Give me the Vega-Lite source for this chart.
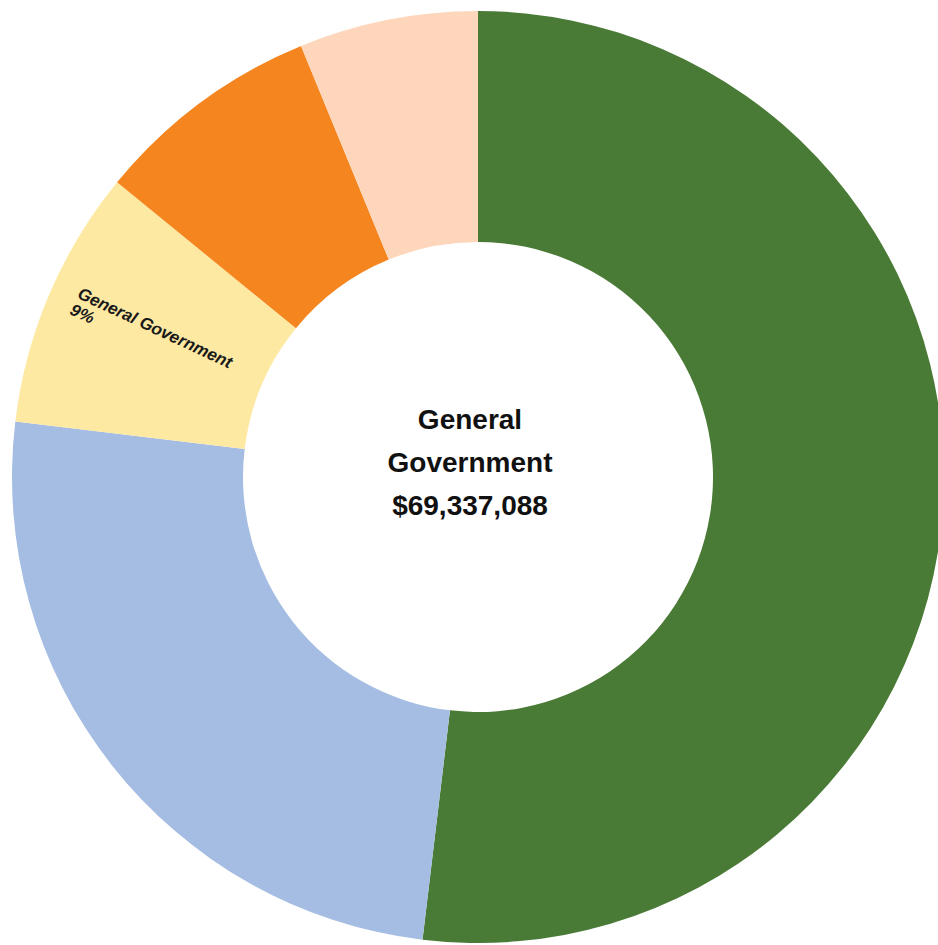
{
  "$schema": "https://vega.github.io/schema/vega-lite/v6.json",
  "width": 938,
  "height": 945,
  "autosize": {"type": "fit", "contains": "padding"},
  "padding": {"left": 18, "top": 9, "right": 0, "bottom": 0},
  "background": "white",
  "config": {"view": {"stroke": null}},
  "layer": [
    {
      "data": {
        "values": [
          {"category": "Segment 1", "share": 51.9, "order": 1, "label": ""},
          {"category": "Segment 2", "share": 25.0, "order": 2, "label": ""},
          {"category": "General Government", "share": 9.0, "order": 3, "label": "General Government\n9%"},
          {"category": "Segment 4", "share": 7.9, "order": 4, "label": ""},
          {"category": "Segment 5", "share": 6.2, "order": 5, "label": ""}
        ]
      },
      "encoding": {
        "theta": {"field": "share", "type": "quantitative", "stack": true},
        "order": {"field": "order", "type": "quantitative"}
      },
      "layer": [
        {
          "mark": {"type": "arc", "outerRadius": 466, "innerRadius": 235},
          "encoding": {
            "color": {
              "field": "category",
              "type": "nominal",
              "sort": ["Segment 1", "Segment 2", "General Government", "Segment 4", "Segment 5"],
              "scale": {
                "domain": ["Segment 1", "Segment 2", "General Government", "Segment 4", "Segment 5"],
                "range": ["#4a7b36", "#a5bde3", "#fde9a2", "#f5861f", "#fdd6bb"]
              },
              "legend": null
            }
          }
        },
        {
          "mark": {
            "type": "text",
            "radius": 440,
            "angle": 25,
            "align": "left",
            "baseline": "middle",
            "lineBreak": "\n",
            "lineHeight": 18,
            "font": "Liberation Sans",
            "fontSize": 17,
            "fontWeight": "bold",
            "fontStyle": "italic",
            "color": "#1a1a1a",
            "dx": 0,
            "dy": -13
          },
          "encoding": {
            "text": {"field": "label", "type": "nominal"}
          }
        }
      ]
    },
    {
      "data": {"values": [{"center": "General\nGovernment\n$69,337,088"}]},
      "mark": {
        "type": "text",
        "align": "center",
        "baseline": "middle",
        "lineBreak": "\n",
        "lineHeight": 43,
        "font": "Liberation Sans",
        "fontSize": 28,
        "fontWeight": "bold",
        "color": "#111111",
        "dx": -8,
        "dy": -56
      },
      "encoding": {
        "text": {"field": "center", "type": "nominal"}
      }
    }
  ]
}
